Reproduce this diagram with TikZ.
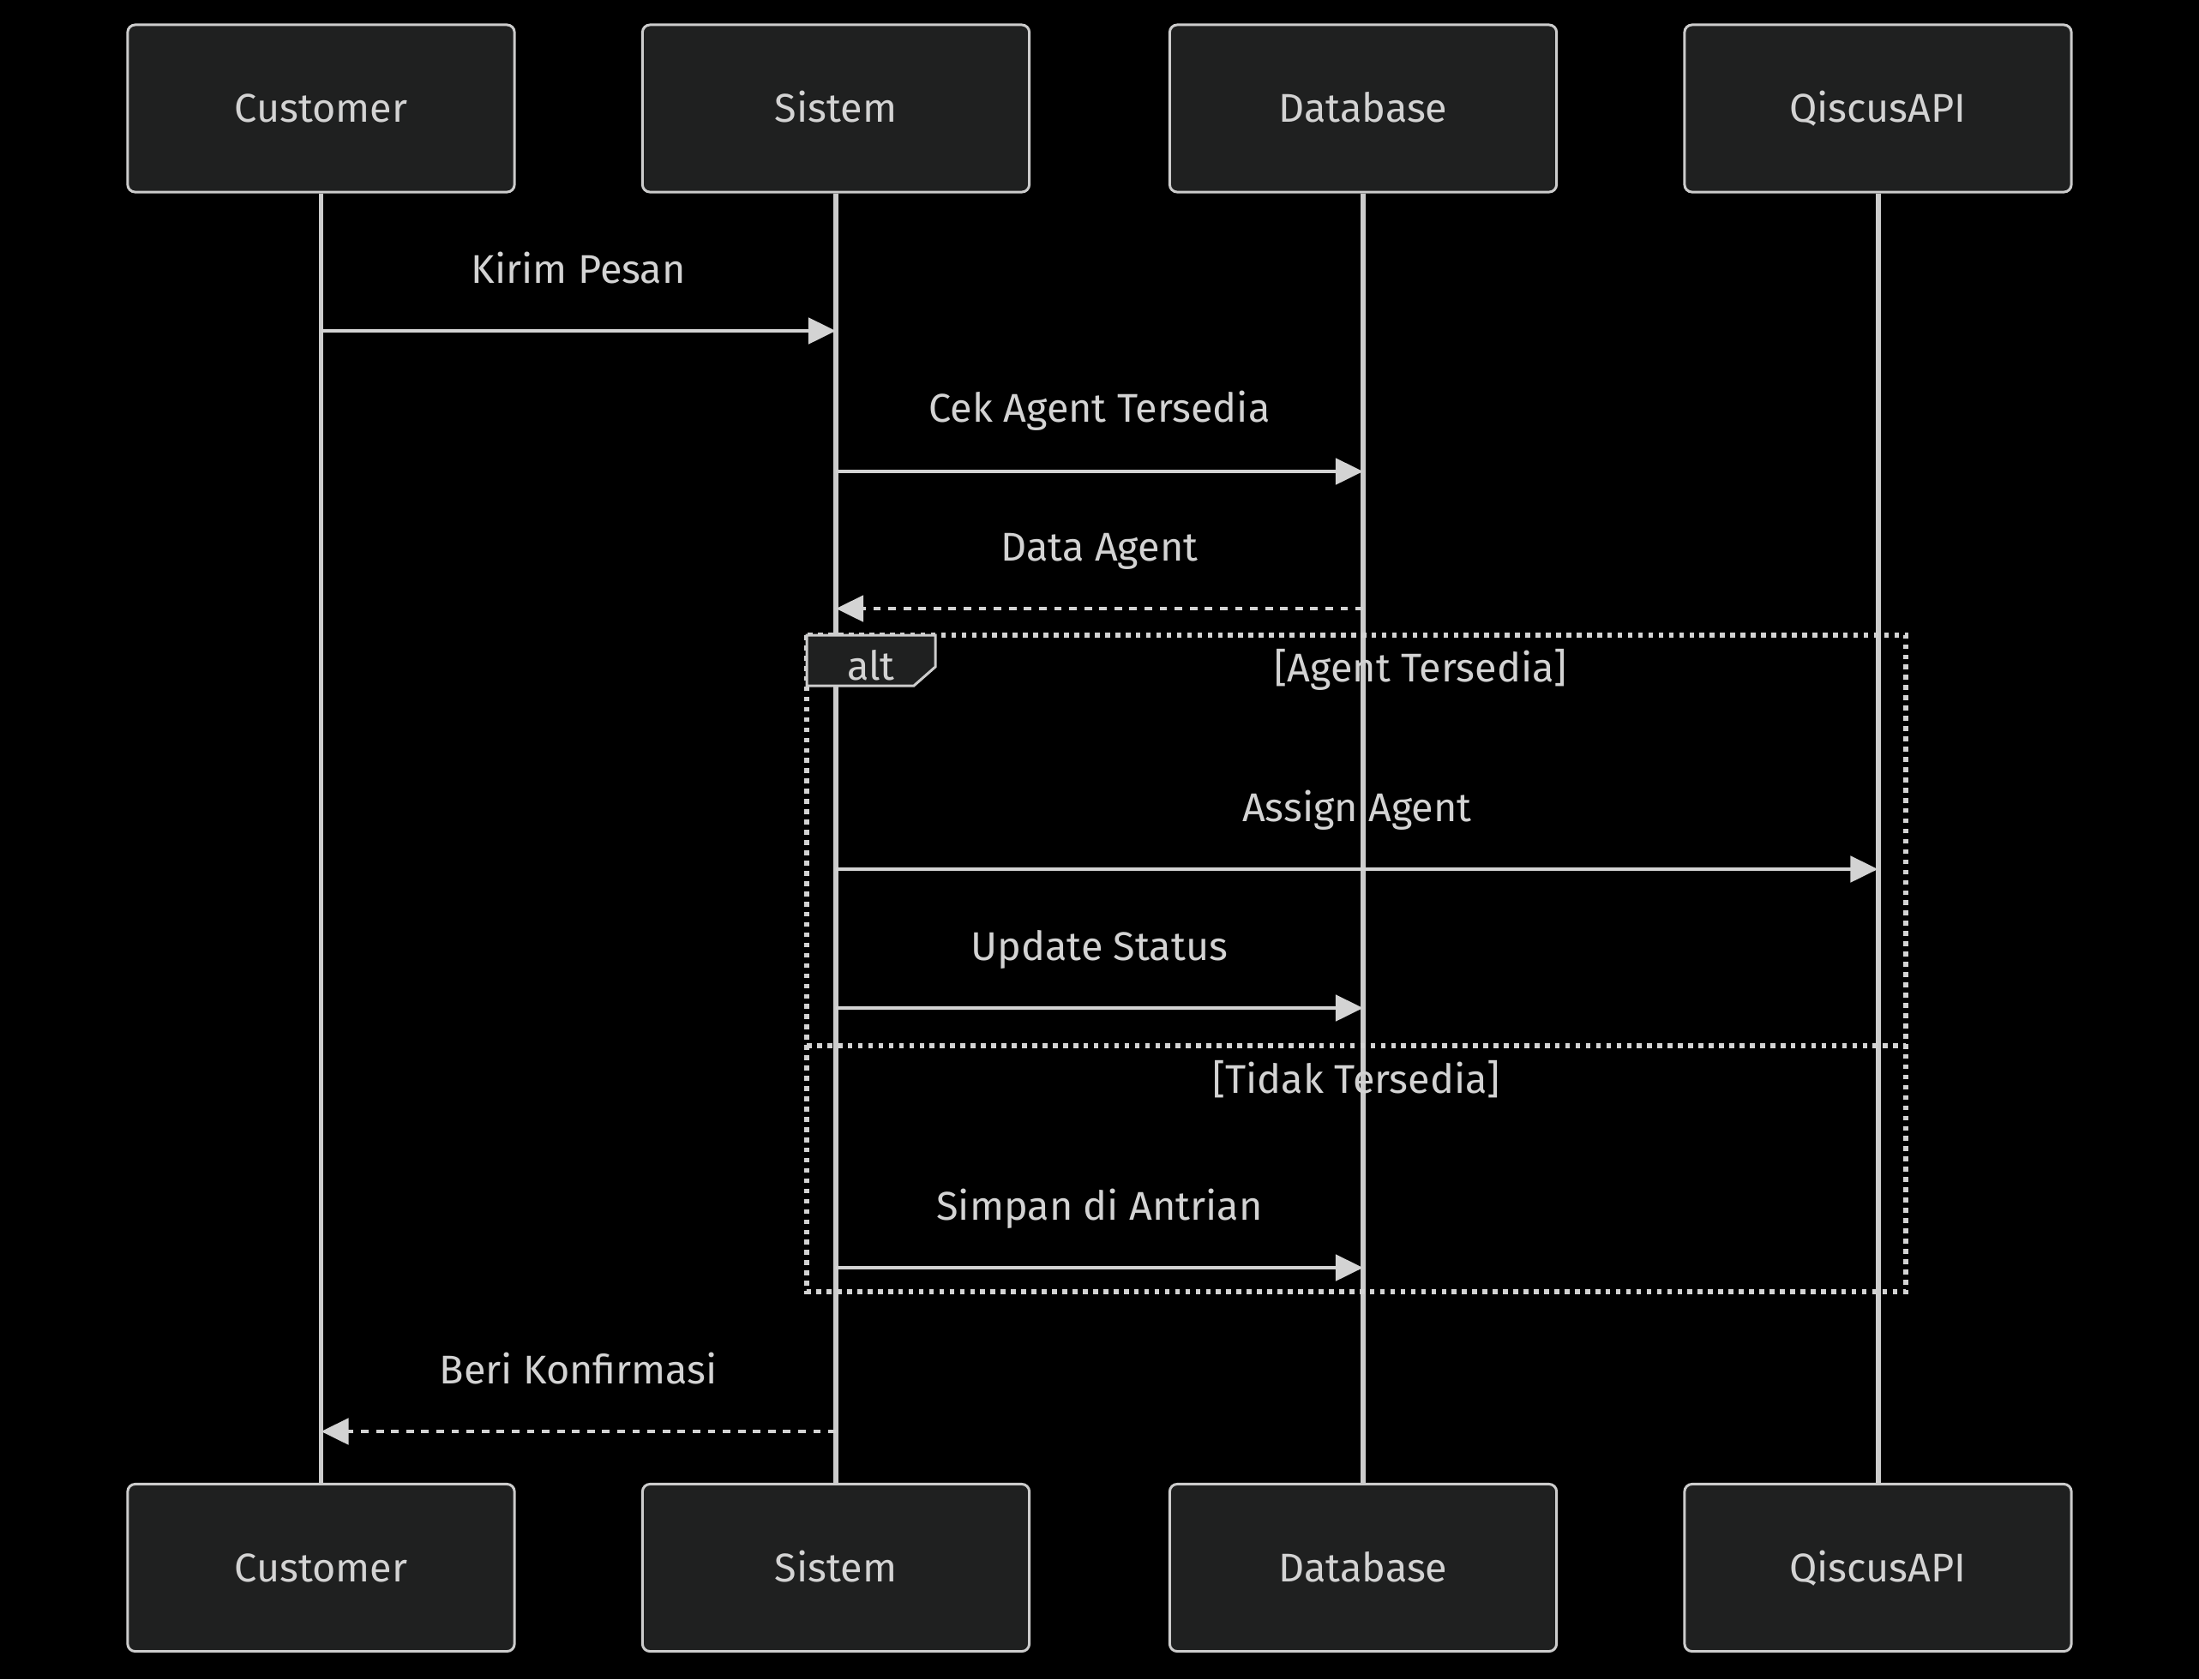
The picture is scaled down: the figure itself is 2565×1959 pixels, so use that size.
\documentclass[tikz,border=0pt]{standalone}
\usepackage{fontspec}
\setmainfont{Fira Sans}
\usetikzlibrary{arrows.meta,positioning,calc}
\usepackage{xcolor}
\definecolor{actorFill}{HTML}{1F2020}
\definecolor{lineGrey}{HTML}{D3D3D3}
\definecolor{borderGrey}{HTML}{CCCCCC}
\tikzstyle{every node}=[font=\fontsize{13.3}{16}\selectfont, text=lineGrey, text centered, text height=9.2pt, text depth=0pt]
\tikzstyle{actor} = [draw=borderGrey, fill=actorFill, rounded corners=2.5pt, line width=0.85pt, minimum width=4.51cm, minimum height=1.95cm, inner sep=0pt]
\tikzstyle{lifeline} = [draw=borderGrey, line width=1.7pt]
\tikzstyle{msg} = [draw=lineGrey, line width=1.4pt, -{Triangle[length=0.32cm,width=0.3cm]}]
\tikzstyle{reply} = [msg, dash pattern=on 2.5pt off 2.5pt]
\tikzstyle{loopline} = [draw=lineGrey, line width=1.6pt, dash pattern=on 1.6pt off 1.8pt]

\begin{document}
\begin{tikzpicture}[x=0.01cm,y=-0.01cm,line join=miter]
    \fill[black] (0,0) rectangle (2565,1959);
    \useasboundingbox (0,0) rectangle (2565,1959);

    % participants
    \node[actor] (customerTop) at (374.5,126.5) {Customer};
    \node[actor] (sistemTop) at (975,126.5) {Sistem};
    \node[actor] (databaseTop) at (1590,126.5) {Database};
    \node[actor] (qiscusTop) at (2190.5,126.5) {QiscusAPI};

    \node[actor] (customerBottom) at (374.5,1829) {Customer};
    \node[actor] (sistemBottom) at (975,1829) {Sistem};
    \node[actor] (databaseBottom) at (1590,1829) {Database};
    \node[actor] (qiscusBottom) at (2190.5,1829) {QiscusAPI};

    \draw[lifeline] (customerTop) -- (customerBottom);
    \draw[lifeline] (sistemTop) -- (sistemBottom);
    \draw[lifeline] (databaseTop) -- (databaseBottom);
    \draw[lifeline] (qiscusTop) -- (qiscusBottom);

    % message rows
    \coordinate (rowKirim) at (0,386);
    \coordinate (rowCek) at (0,550);
    \coordinate (rowData) at (0,710);
    \coordinate (rowAssign) at (0,1014);
    \coordinate (rowUpdate) at (0,1176);
    \coordinate (rowSimpan) at (0,1479);
    \coordinate (rowBeri) at (0,1670);

    \draw[msg] (customerTop |- rowKirim) -- (sistemTop |- rowKirim) node[midway,yshift=0.72cm] (kirimLabel) {Kirim Pesan};
    \draw[msg] (sistemTop |- rowCek) -- (databaseTop |- rowCek) node[midway,yshift=0.74cm] (cekLabel) {Cek Agent Tersedia};
    \draw[reply] (databaseTop |- rowData) -- (sistemTop |- rowData) node[midway,yshift=0.72cm] (dataLabel) {Data Agent};

    % alt frame
    \coordinate (altNW) at (941,741);
    \coordinate (altSE) at (2223,1507);
    \coordinate (altSplit) at (0,1220);
    \draw[loopline] (altNW) rectangle (altSE);
    \draw[loopline] (altNW |- altSplit) -- (altSE |- altSplit);
    \draw[draw=borderGrey, fill=actorFill, line width=0.85pt] (altNW) -- ++(150,0) -- ++(0,37) -- ++(-25,22) -- ++(-125,0) -- cycle;
    \node (altLabel) at (1016,777) {alt};
    \node (agentCond) at (1657,779) {[Agent Tersedia]};
    \node (tidakCond) at (1582,1259) {[Tidak Tersedia]};

    \draw[msg] (sistemTop |- rowAssign) -- (qiscusTop |- rowAssign) node[midway,yshift=0.72cm] (assignLabel) {Assign Agent};
    \draw[msg] (sistemTop |- rowUpdate) -- (databaseTop |- rowUpdate) node[midway,yshift=0.72cm] (updateLabel) {Update Status};
    \draw[msg] (sistemTop |- rowSimpan) -- (databaseTop |- rowSimpan) node[midway,yshift=0.72cm] (simpanLabel) {Simpan di Antrian};

    \draw[reply] (sistemTop |- rowBeri) -- (customerTop |- rowBeri) node[midway,yshift=0.72cm] (beriLabel) {Beri Konfirmasi};

\end{tikzpicture}
\end{document}
